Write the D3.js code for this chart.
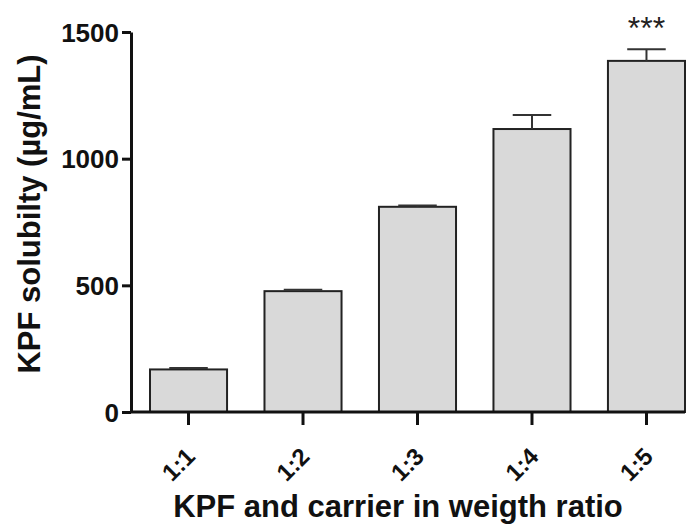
<!DOCTYPE html>
<html>
<head>
<meta charset="utf-8">
<script src="https://cdn.jsdelivr.net/npm/d3@7"></script>
<style>
  body { margin: 0; background: #fff; }
  svg { display: block; font-family: "Liberation Sans", Arial, sans-serif; }
</style>
</head>
<body>
<svg id="chart" width="694" height="524"></svg>
<script>
// ratios on the x axis, mean solubility and upper error (SD)
var ratios = ["1:1", "1:2", "1:3", "1:4", "1:5"]
var solubility = [168, 477, 810, 1117, 1386]
var errors = [6, 6, 5, 55, 46]
var yTicks = [0, 500, 1000, 1500]
var marks = ["", "", "", "", "***"]

var svg = d3.select("#chart")

var axisX = 131, axisEnd = 685
var y = d3.scaleLinear().domain([0, 1500]).range([412, 32])
var x = d3.scaleBand().domain(ratios).range([150, axisEnd]).paddingInner(0.327).paddingOuter(0)

var data = ratios.map(function(r, i) {
  return {ratio: r, value: solubility[i], err: errors[i], mark: marks[i]}
})

// bars
svg.append("g").selectAll("rect")
    .data(data)
    .enter().append("rect")
      .attr("x", function(d) { return x(d.ratio) })
      .attr("y", function(d) { return y(d.value) })
      .attr("width", x.bandwidth())
      .attr("height", function(d) { return y(0) - y(d.value) })
      .attr("fill", "#d9d9d9")
      .attr("stroke", "#222")
      .attr("stroke-width", 2)

// error bars (upper only)
var eb = svg.append("g").attr("stroke", "#333").attr("stroke-width", 2)
data.forEach(function(d) {
  var cx = x(d.ratio) + x.bandwidth() / 2
  var capW = x.bandwidth() / 4
  eb.append("line")
    .attr("x1", cx).attr("x2", cx)
    .attr("y1", y(d.value)).attr("y2", y(d.value + d.err))
  eb.append("line")
    .attr("x1", cx - capW).attr("x2", cx + capW)
    .attr("y1", y(d.value + d.err)).attr("y2", y(d.value + d.err))
})

// significance marks
svg.append("g").selectAll("text")
    .data(data)
    .enter().append("text")
      .attr("x", function(d) { return x(d.ratio) + x.bandwidth() / 2 })
      .attr("y", function(d) { return y(d.value + d.err) - 10 })
      .attr("text-anchor", "middle")
      .style("font-size", "32px")
      .attr("fill", "#222")
      .text(function(d) { return d.mark })

// y axis
var yAxis = svg.append("g")
    .attr("transform", "translate(" + axisX + ",0)")
    .call(d3.axisLeft(y).tickValues(yTicks).tickFormat(d3.format("d"))
      .tickSize(9).tickPadding(3).tickSizeOuter(0))
yAxis.select(".domain").attr("stroke", "#111").attr("stroke-width", 3)
yAxis.selectAll(".tick line").attr("stroke", "#111").attr("stroke-width", 3)
yAxis.selectAll(".tick text")
    .style("font-size", "26px").style("font-weight", "bold").attr("fill", "#111")
    .attr("dy", "0.35em")

// x axis
var xAxis = svg.append("g")
    .attr("transform", "translate(0," + y(0) + ")")
    .call(d3.axisBottom(x).tickSize(13).tickSizeOuter(0))
xAxis.select(".domain").attr("d", "M" + axisX + ",0H" + axisEnd)
    .attr("stroke", "#111").attr("stroke-width", 3)
xAxis.selectAll(".tick line").attr("stroke", "#111").attr("stroke-width", 3)
xAxis.selectAll(".tick text")
    .style("font-size", "24px").style("font-weight", "bold").attr("fill", "#111")
    .attr("text-anchor", "end")
    .attr("x", 0).attr("y", 0).attr("dy", 0)
    .attr("transform", "translate(8,46) rotate(-45)")

// axis titles
svg.append("text")
    .attr("transform", "translate(40,214) rotate(-90)")
    .attr("text-anchor", "middle")
    .style("font-size", "31px").style("font-weight", "bold").attr("fill", "#111")
    .text("KPF solubilty (µg/mL)")

svg.append("text")
    .attr("x", 398).attr("y", 517)
    .attr("text-anchor", "middle")
    .style("font-size", "31px").style("font-weight", "bold").attr("fill", "#111")
    .text("KPF and carrier in weigth ratio")
</script>
</body>
</html>
